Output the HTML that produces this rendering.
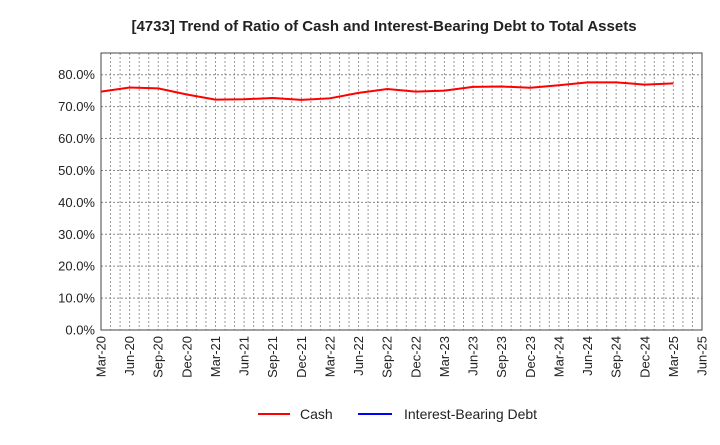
<!DOCTYPE html>
<html><head><meta charset="utf-8"><style>
body{margin:0;background:#fff;font-family:"Liberation Sans",sans-serif}
svg text{font-family:"Liberation Sans",sans-serif}
</style></head><body>
<svg id="c" width="720" height="440"></svg>
<script>
const categories=["Mar-20","Jun-20","Sep-20","Dec-20","Mar-21","Jun-21","Sep-21","Dec-21","Mar-22","Jun-22","Sep-22","Dec-22","Mar-23","Jun-23","Sep-23","Dec-23","Mar-24","Jun-24","Sep-24","Dec-24","Mar-25","Jun-25"];
const cashValues=[74.7,76.0,75.7,73.8,72.2,72.3,72.7,72.1,72.6,74.3,75.5,74.7,75.0,76.2,76.3,75.9,76.7,77.6,77.6,76.9,77.3];
const debtValues=[];
const yTicks=[0,10,20,30,40,50,60,70,80];
const NS="http://www.w3.org/2000/svg";
const svg=document.getElementById('c');
const L=101,R=702,T=53,B=330,YMAX=86.8;
const x=i=>L+(R-L)*i/(categories.length-1);
const y=v=>B-(B-T)*v/YMAX;
function mk(t,a,p){const e=document.createElementNS(NS,t);for(const k in a)e.setAttribute(k,a[k]);(p||svg).appendChild(e);return e;}
const title=mk('text',{x:384,y:31,'text-anchor':'middle','font-size':15,'font-weight':'bold',fill:'#222'});


title.textContent='[4733]  Trend of Ratio of Cash and Interest-Bearing Debt to Total Assets';
const g=mk('g',{});


for(let m=1;m<(categories.length-1)*3;m++){const xx=L+(R-L)*m/((categories.length-1)*3);mk('line',{x1:xx,x2:xx,y1:T,y2:B,stroke:'#999','stroke-dasharray':'2,2','stroke-width':1},g);}
yTicks.forEach(v=>{if(v>0)mk('line',{x1:L,x2:R,y1:y(v),y2:y(v),stroke:'#888','stroke-dasharray':'2,2','stroke-width':1},g);
const t=mk('text',{x:L-6,y:y(v)+4.5,'text-anchor':'end','font-size':13,fill:'#222'});


t.textContent=v.toFixed(1)+'%';});
categories.forEach((c,i)=>{const t=mk('text',{transform:`translate(${x(i)+4.5},${B+6}) rotate(-90)`,'text-anchor':'end','font-size':13,fill:'#222'});


t.textContent=c;});
const fr=mk('rect',{x:L,y:T,width:R-L,height:B-T,fill:'none',stroke:'#444','stroke-width':1});


const line=mk('polyline',{points:cashValues.map((v,i)=>x(i)+','+y(v)).join(' '),fill:'none',stroke:'#f00','stroke-width':2});


if(debtValues.length){const dl=mk('polyline',{points:debtValues.map((v,i)=>x(i)+','+y(v)).join(' '),fill:'none',stroke:'#00f','stroke-width':2});

}
const lg=mk('g',{});


mk('line',{x1:258,x2:290,y1:414,y2:414,stroke:'#f00','stroke-width':2},lg);
const t1=mk('text',{x:300,y:419,'font-size':14,fill:'#222'},lg);t1.textContent='Cash';
mk('line',{x1:358,x2:392,y1:414,y2:414,stroke:'#00f','stroke-width':2},lg);
const t2=mk('text',{x:404,y:419,'font-size':14,fill:'#222'},lg);t2.textContent='Interest-Bearing Debt';
</script>
</body></html>
